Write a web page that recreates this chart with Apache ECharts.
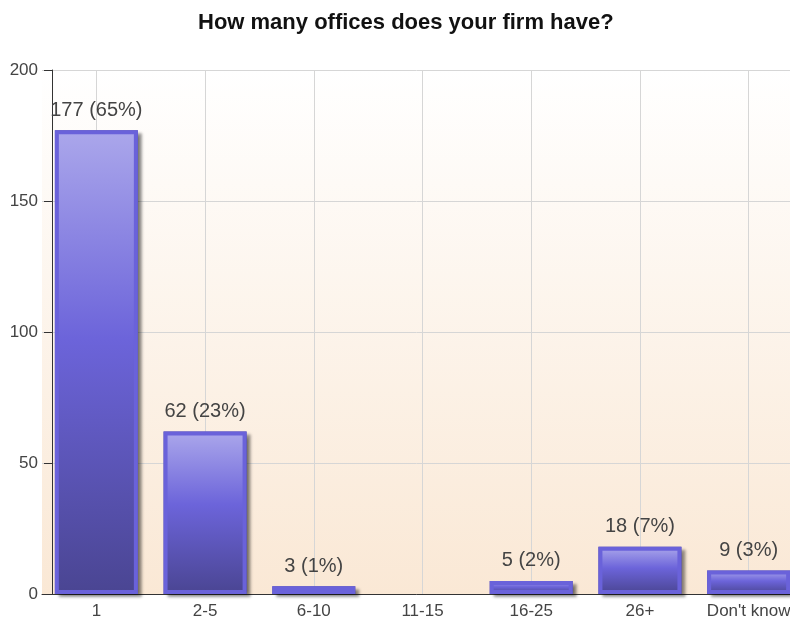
<!DOCTYPE html>
<html>
<head>
<meta charset="utf-8">
<script src="https://cdn.jsdelivr.net/npm/echarts@6/dist/echarts.min.js"></script>
<style>
  html, body { margin: 0; padding: 0; background: #ffffff; }
  #chart { width: 790px; height: 622px; }
</style>
</head>
<body>
<div id="chart"></div>
<script>
// Survey question and answers
const chartTitle = 'How many offices does your firm have?';
const categories = ['1', '2-5', '6-10', '11-15', '16-25', '26+', "Don't know"];
const counts = [177, 62, 3, 0, 5, 18, 9];
const percents = [65, 23, 1, 0, 2, 7, 3];
const yTicks = { min: 0, max: 200, interval: 50 };

const textColor = '#444444';
const fontFamily = 'Liberation Sans, Arial, sans-serif';
const barWidth = 83;

const barFill = new echarts.graphic.LinearGradient(0, 0, 0, 1, [
  { offset: 0, color: '#aba7eb' },
  { offset: 0.45, color: '#6c64da' },
  { offset: 1, color: '#4a4592' }
]);

// Empty answers get no visible bar
const hidden = { itemStyle: { opacity: 0 }, label: { show: false } };
const frontData = counts.map(v => (v === 0 ? Object.assign({ value: v }, hidden) : { value: v }));
const backData = counts.map(v => (v === 0 ? Object.assign({ value: v }, hidden) : { value: v }));

const chart = echarts.init(document.getElementById('chart'), null, { renderer: 'canvas' });
chart.setOption({
  animation: false,
  title: {
    text: chartTitle,
    left: 193,
    top: 7,
    textStyle: { fontFamily: fontFamily, fontSize: 22, fontWeight: 'bold', color: '#111111' }
  },
  grid: {
    left: 42,
    top: 70,
    width: 761,
    bottom: 28,
    outerBoundsMode: 'none',
    containLabel: false,
    show: true,
    borderWidth: 0,
    backgroundColor: new echarts.graphic.LinearGradient(0, 0, 0, 1, [
      { offset: 0, color: '#ffffff' },
      { offset: 1, color: '#fae8d5' }
    ])
  },
  xAxis: {
    type: 'category',
    data: categories,
    axisLine: { lineStyle: { color: '#333333', width: 1 } },
    axisTick: { alignWithLabel: true, length: 6, lineStyle: { color: '#333333' } },
    axisLabel: { color: textColor, fontFamily: fontFamily, fontSize: 17, margin: 9, interval: 0 },
    splitLine: { show: true, alignWithLabel: true, lineStyle: { color: '#d6d6d6', width: 1 } }
  },
  yAxis: {
    type: 'value',
    min: yTicks.min,
    max: yTicks.max,
    interval: yTicks.interval,
    offset: -10,
    axisLine: { show: true, lineStyle: { color: '#333333', width: 1 } },
    axisTick: { show: true, length: 8, lineStyle: { color: '#333333' } },
    axisLabel: { color: textColor, fontFamily: fontFamily, fontSize: 17, margin: 14 },
    splitLine: { show: true, lineStyle: { color: '#d6d6d6', width: 1 } }
  },
  series: [
    {
      // dark outline + drop shadow behind each bar
      type: 'bar',
      data: backData,
      barWidth: barWidth,
      barGap: '-100%',
      silent: true,
      z: 2,
      itemStyle: {
        color: '#6a62da',
        borderColor: '#4f48a6',
        borderWidth: 6,
        shadowColor: 'rgba(0,0,0,0.4)',
        shadowBlur: 3,
        shadowOffsetX: 4,
        shadowOffsetY: 3
      }
    },
    {
      type: 'bar',
      data: frontData,
      barWidth: barWidth,
      barGap: '-100%',
      z: 3,
      itemStyle: {
        color: barFill,
        borderColor: '#6a62da',
        borderWidth: 4
      },
      label: {
        show: true,
        position: 'top',
        distance: 10,
        color: textColor,
        fontFamily: fontFamily,
        fontSize: 20,
        formatter: p => p.value + ' (' + percents[p.dataIndex] + '%)'
      }
    }
  ]
});
</script>
</body>
</html>
